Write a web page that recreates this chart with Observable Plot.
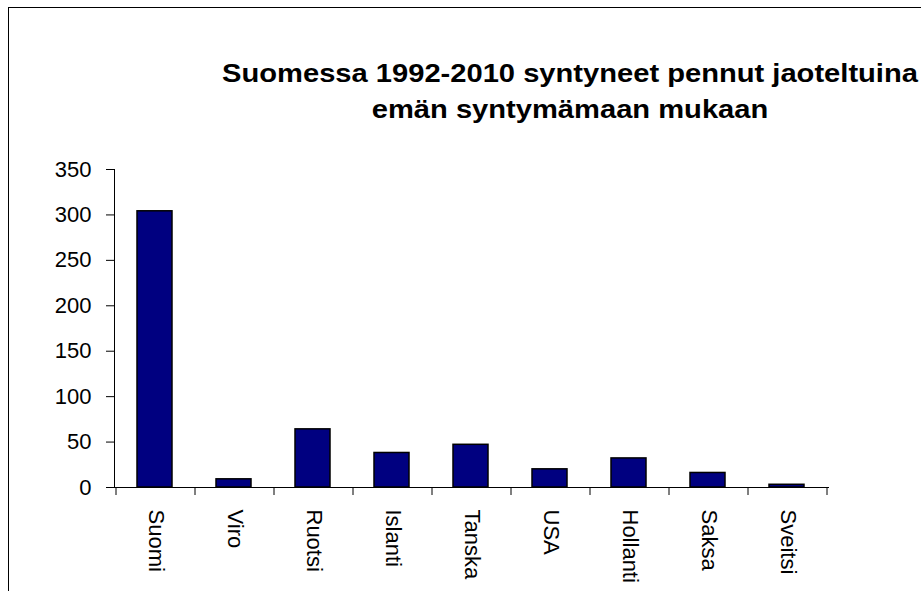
<!DOCTYPE html>
<html>
<head>
<meta charset="utf-8">
<script src="https://cdn.jsdelivr.net/npm/d3@7"></script>
<script src="https://cdn.jsdelivr.net/npm/@observablehq/plot@0.6"></script>
<style>
  html, body { margin: 0; padding: 0; background: #fff; }
  #wrap { position: relative; width: 921px; height: 591px; overflow: hidden; background: #fff; }
  #frame { position: absolute; left: 8px; top: 7px; width: 1200px; height: 900px; border: 1.5px solid #000; box-sizing: border-box; }
  #title { position: absolute; left: 570px; top: 55px; transform: translateX(-50%) scaleX(1.12); white-space: nowrap;
           font-family: "Liberation Sans", Arial, sans-serif; font-weight: bold; font-size: 26px; line-height: 36px;
           text-align: center; color: #000; }
  #chart { position: absolute; left: 0; top: 0; }
</style>
</head>
<body>
<div id="wrap">
  <div id="frame"></div>
  <div id="chart"></div>
  <div id="title">Suomessa 1992-2010 syntyneet pennut jaoteltuina<br>emän syntymämaan mukaan</div>
</div>
<script>
const countries = ["Suomi", "Viro", "Ruotsi", "Islanti", "Tanska", "USA", "Hollanti", "Saksa", "Sveitsi"];
const puppies = [304, 9, 64, 38, 47, 20, 32, 16, 3];
const yTicks = [0, 50, 100, 150, 200, 250, 300, 350];

const data = countries.map((c, i) => ({country: c, value: puppies[i]}));

// tick marks at the band boundaries, positioned through the x scale
function bandTicks(index, scales, values, dims) {
  const svgNS = "http://www.w3.org/2000/svg";
  const g = document.createElementNS(svgNS, "g");
  const x = scales.x;
  const step = x(countries[1]) - x(countries[0]);
  const y0 = dims.height - dims.marginBottom;
  const xs = countries.map(c => x(c)).concat([x(countries[countries.length - 1]) + step]);
  for (const px of xs) {
    const l = document.createElementNS(svgNS, "line");
    l.setAttribute("x1", px); l.setAttribute("x2", px);
    l.setAttribute("y1", y0); l.setAttribute("y2", y0 + 8);
    l.setAttribute("stroke", "#000");
    l.setAttribute("stroke-width", 1);
    g.appendChild(l);
  }
  return g;
}

const chart = Plot.plot({
  width: 921,
  height: 591,
  marginLeft: 114,
  marginRight: 93,
  marginTop: 169,
  marginBottom: 104,
  style: {fontFamily: "'Liberation Sans', Arial, sans-serif", fontSize: "22px", color: "#000", background: "transparent"},
  x: {domain: countries, padding: 0, label: null},
  y: {domain: [0, 350], label: null},
  marks: [
    Plot.barY(data, {x: "country", y: "value", fill: "#000080", stroke: "#000", strokeWidth: 1.5, insetLeft: 21, insetRight: 23}),
    Plot.frame({anchor: "left", stroke: "#000", strokeWidth: 1}),
    Plot.frame({anchor: "bottom", stroke: "#000", strokeWidth: 1}),
    Plot.axisY({ticks: yTicks, tickSize: 8, tickPadding: 15, label: null, fontSize: 22}),
    Plot.axisX({tickSize: 0, tickPadding: 22, tickRotate: 90, label: null, fontSize: 22}),
    bandTicks
  ]
});
document.getElementById("chart").appendChild(chart);
</script>
</body>
</html>
